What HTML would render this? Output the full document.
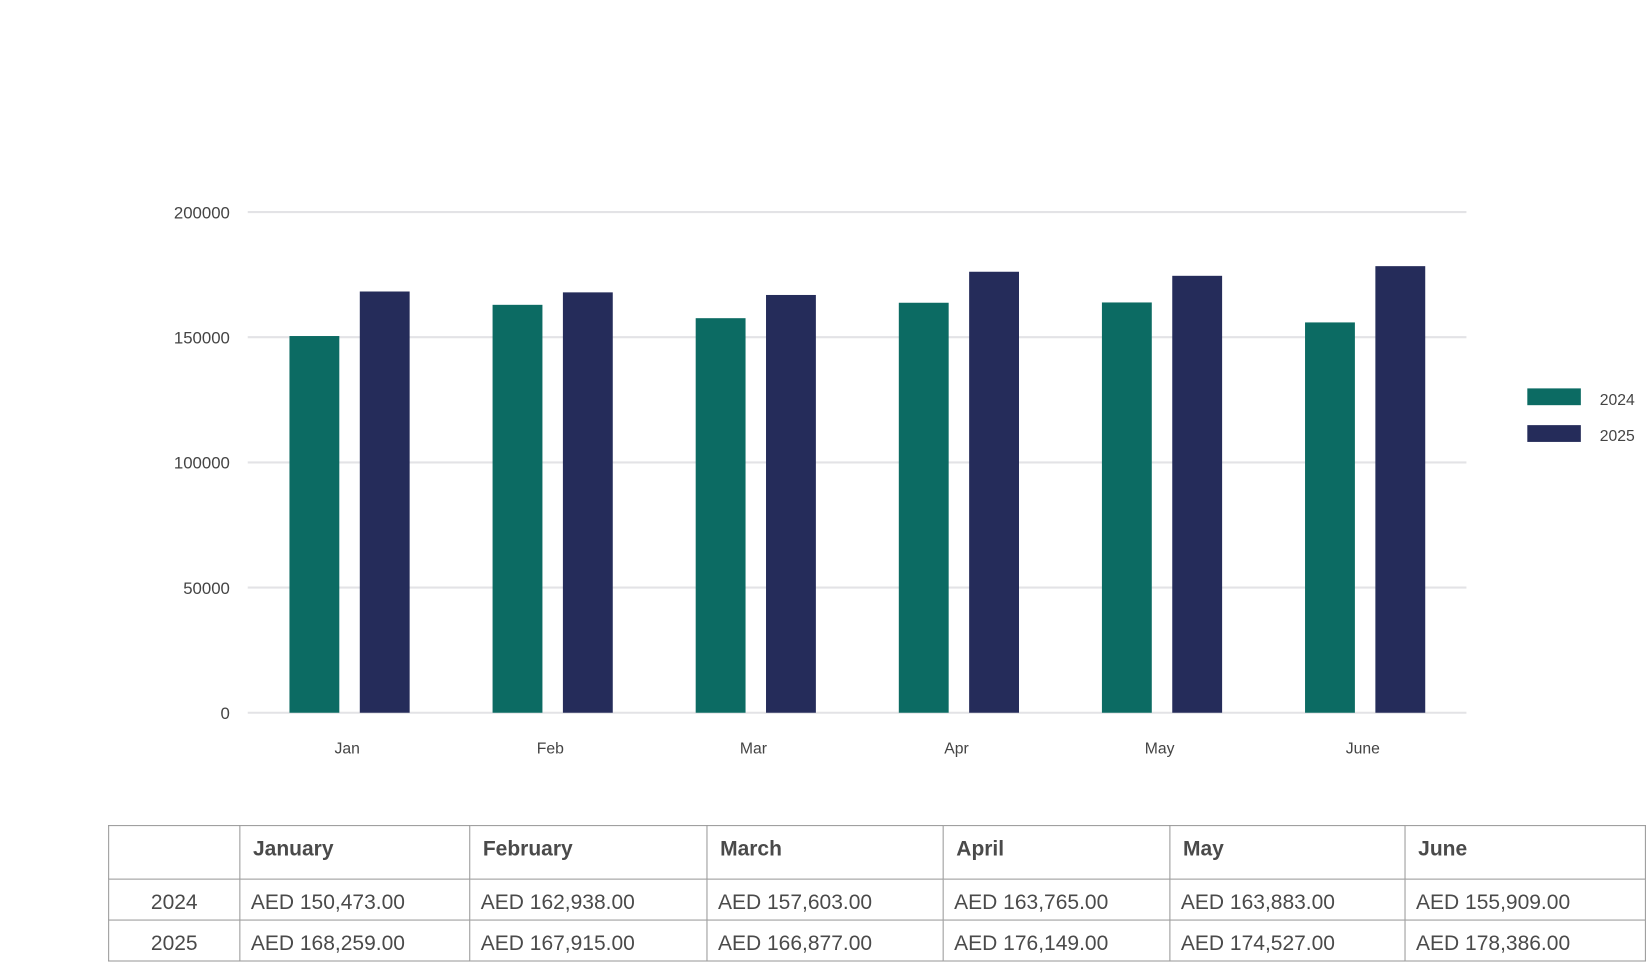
<!DOCTYPE html>
<html><head><meta charset="utf-8"><style>
body{margin:0;width:1646px;height:961px;background:#fff;font-family:"Liberation Sans",sans-serif;overflow:hidden}
#wrap{position:absolute;left:0;top:0;width:1568px;height:915px;transform:scale(1.0497);transform-origin:0 0}
svg{position:absolute;left:0;top:0}
table{position:absolute;left:103px;top:786px;border-collapse:collapse;color:#4a4a4a}
td{border:1px solid #9a9a9a;padding:0 0 0 10px;font-size:20px;box-sizing:border-box}
tr.h td{height:51px;font-weight:bold;padding-left:12px;vertical-align:top;padding-top:11px}
tr.r td{height:39px;padding-top:6px}
td.y{text-align:center;padding-left:0}
</style></head><body>
<div id="wrap">
<svg width="1568" height="780">
<g id="grid"></g><g id="bars"></g><g id="labels"></g>
<rect x="1455" y="370" width="51" height="16" fill="#0c6b63"/>
<text x="1524" y="386" font-size="15" fill="#444">2024</text>
<rect x="1455" y="405" width="51" height="16" fill="#252c5a"/>
<text x="1524" y="420" font-size="15" fill="#444">2025</text>
</svg>
<table>
<tr class="h"><td style="width:125px"></td><td style="width:219px">January</td><td style="width:226px">February</td><td style="width:225px">March</td><td style="width:216px">April</td><td style="width:224px">May</td><td style="width:229px">June</td></tr>
<tr class="r"><td class="y">2024</td><td>AED 150,473.00</td><td>AED 162,938.00</td><td>AED 157,603.00</td><td>AED 163,765.00</td><td>AED 163,883.00</td><td>AED 155,909.00</td></tr>
<tr class="r"><td class="y">2025</td><td>AED 168,259.00</td><td>AED 167,915.00</td><td>AED 166,877.00</td><td>AED 176,149.00</td><td>AED 174,527.00</td><td>AED 178,386.00</td></tr>
</table>
</div>
<script>
const categories=["Jan","Feb","Mar","Apr","May","June"];
const values2024=[150473,162938,157603,163765,163883,155909];
const values2025=[168259,167915,166877,176149,174527,178386];
const ticks=[0,50000,100000,150000,200000];
const NS="http://www.w3.org/2000/svg";
const x0=236,x1=1397,y0=679,yTop=202,maxV=200000;
const bw=(x1-x0)/categories.length;
const y=v=>y0-(v/maxV)*(y0-yTop);
const cx=i=>x0+bw*(i+0.5);
function mk(tag,attrs,parent){const e=document.createElementNS(NS,tag);for(const k in attrs)e.setAttribute(k,attrs[k]);document.getElementById(parent).appendChild(e);return e;}
ticks.forEach(t=>{
 const l=mk('line',{x1:x0,x2:x1,y1:y(t),y2:y(t),stroke:'#e3e3e6','stroke-width':2},'grid');
 
 
 const tx=mk('text',{x:219,y:y(t)+6,'font-size':16,fill:'#444','text-anchor':'end'},'labels');
 tx.textContent=t;
 
 
});
categories.forEach((c,i)=>{
 const a=mk('rect',{x:cx(i)-57,y:y(values2024[i]),width:47.5,height:y0-y(values2024[i]),fill:'#0c6b63'},'bars');
 
 
 const b=mk('rect',{x:cx(i)+10,y:y(values2025[i]),width:47.5,height:y0-y(values2025[i]),fill:'#252c5a'},'bars');
 
 
 const t=mk('text',{x:cx(i)-2,y:718,'font-size':15,fill:'#444','text-anchor':'middle'},'labels');
 t.textContent=c;
 
 
});
</script>
</body></html>
